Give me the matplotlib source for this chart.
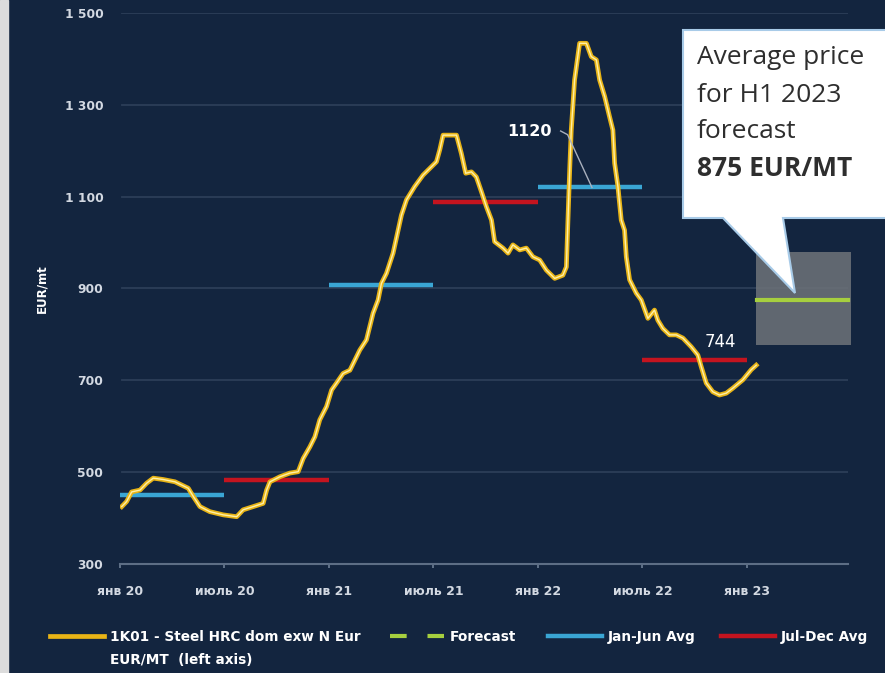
import numpy as np
import matplotlib.pyplot as plt
from matplotlib.patches import Polygon, Rectangle
from matplotlib.lines import Line2D

# weekly-ish readings, x in months since Jan 2020
months = [0.10, 0.38, 0.67, 1.15, 1.53, 1.91, 2.48, 3.16, 3.54, 3.92,
          4.21, 4.59, 5.16, 5.93, 6.70, 7.07, 7.65, 8.22, 8.42, 8.61,
          9.18, 9.75, 10.23, 10.52, 10.90, 11.19, 11.47, 11.86, 12.15, 12.43,
          12.81, 13.20, 13.77, 14.15, 14.53, 14.82, 15.01, 15.30, 15.68, 15.97,
          16.16, 16.45, 16.92, 17.40, 18.17, 18.36, 18.55, 19.32, 19.60, 19.85,
          20.18, 20.46, 20.75, 21.04, 21.33, 21.51, 21.99, 22.28, 22.56, 22.95,
          23.33, 23.71, 24.10, 24.48, 24.96, 25.43, 25.63, 25.72, 25.82, 25.91,
          26.10, 26.39, 26.78, 27.06, 27.35, 27.54, 27.83, 28.11, 28.30, 28.40,
          28.59, 28.78, 28.97, 29.07, 29.26, 29.64, 29.93, 30.31, 30.69, 30.88,
          31.17, 31.55, 31.94, 32.32, 32.80, 33.18, 33.37, 33.66, 34.04, 34.42,
          34.81, 35.19, 35.76, 36.24, 36.53]
price = [425, 436, 457, 461, 476, 487, 484, 479, 472, 465,
         447, 425, 414, 407, 403, 418, 425, 432, 461, 479,
         490, 498, 501, 530, 555, 577, 614, 643, 679, 694,
         715, 722, 766, 788, 846, 875, 911, 933, 977, 1027,
         1060, 1093, 1122, 1147, 1176, 1202, 1234, 1234, 1194, 1151,
         1154, 1143, 1111, 1078, 1049, 1002, 988, 977, 995, 984,
         988, 969, 962, 940, 922, 929, 947, 1049, 1158, 1245,
         1354, 1434, 1434, 1405, 1398, 1354, 1318, 1274, 1245, 1173,
         1122, 1049, 1027, 969, 919, 890, 875, 835, 853, 831,
         813, 799, 799, 792, 773, 755, 730, 694, 675, 668,
         672, 683, 701, 723, 733]

half_start = [0, 6, 12, 18, 24, 30]
half_end = [6, 12, 18, 24, 30, 36]
half_avg = [450, 484, 908, 1088, 1120, 744]

forecast_start = 36.55
forecast_end = 41.8
forecast_val = 875
forecast_low = 777
forecast_high = 980

tick_pos = [0, 6, 12, 18, 24, 30, 36]
tick_lab = ['янв 20', 'июль 20', 'янв 21', 'июль 21', 'янв 22', 'июль 22', 'янв 23']
y_ticks = [300, 500, 700, 900, 1100, 1300, 1500]
y_labs = ['300', '500', '700', '900', '1 100', '1 300', '1 500']

BG = '#13253f'
W, H = 885, 673


def fx(px):
    return px / W


def fy(py):
    return 1 - py / H


fig = plt.figure(figsize=(8.85, 6.73), dpi=100)
fig.patch.set_facecolor(BG)
fig.patches.append(Rectangle((0, 0), fx(8), 1, transform=fig.transFigure,
                             color='#dcdcdc', zorder=0))

ax = fig.add_axes([fx(120), fy(564), fx(848) - fx(120), fy(13) - fy(564)])
ax.set_facecolor(BG)
ax.set_xlim(0, 41.8)
ax.set_ylim(300, 1500)

for s in ['top', 'right', 'left']:
    ax.spines[s].set_visible(False)
ax.spines['bottom'].set_color('#5d6e85')
ax.spines['bottom'].set_linewidth(1.5)

ax.set_yticks(y_ticks)
ax.set_yticklabels(y_labs)
ax.set_xticks(tick_pos)
ax.set_xticklabels(tick_lab)
ax.tick_params(axis='y', length=0, pad=12, labelsize=8.8, labelcolor='#d3d9e2')
ax.tick_params(axis='x', length=3, color='#6d7e95', width=1.2, pad=12,
               labelsize=9, labelcolor='#d3d9e2')
for lab in ax.get_xticklabels() + ax.get_yticklabels():
    lab.set_fontweight('bold')
ax.set_ylabel('EUR/mt', color='white', fontsize=8.5, fontweight='bold', labelpad=12)

for yv in y_ticks[1:]:
    ax.plot([0.1, 41.8], [yv, yv], color='#2c3e58', lw=1.3, zorder=1)

# forecast band
ax.add_patch(Rectangle((forecast_start - 0.05, forecast_low), 42.05 - forecast_start,
                       forecast_high - forecast_low, facecolor='#6e7379',
                       edgecolor='none', alpha=0.85, zorder=2, clip_on=False))
ax.plot([forecast_start, forecast_end], [forecast_val, forecast_val], color='#a6cf3f',
        lw=3, zorder=3, clip_on=False)

for i in range(len(half_avg)):
    c = '#3aa6d4' if i % 2 == 0 else '#c4141f'
    ax.plot([half_start[i], half_end[i]], [half_avg[i], half_avg[i]], color=c,
            lw=3.2, zorder=3, solid_capstyle='butt', clip_on=False)

ax.plot(months, price, color='#e8b416', lw=3.4, zorder=4, solid_joinstyle='round')
ax.plot(months, price, color='#fff0a8', lw=1.0, zorder=5, solid_joinstyle='round')

# label for the Jan-Jun 2022 average with its leader line
ax.text(23.5, 1243, '1120', color='white', fontsize=11.5, fontweight='bold',
        ha='center', va='center', zorder=6)
ax.plot([25.3, 25.7, 27.1], [1243, 1235, 1120], color='#a9b0bd', lw=1, zorder=6)
ax.text(34.5, 783, '744', color='white', fontsize=12, ha='center', va='center',
        zorder=6)

# callout box
callout = Polygon([(fx(683), fy(30)), (fx(890), fy(30)), (fx(890), fy(218)),
                   (fx(783), fy(218)), (fx(795), fy(293)), (fx(723), fy(218)),
                   (fx(683), fy(218))], closed=True, transform=fig.transFigure,
                  facecolor='white', edgecolor='#a8cbe8', lw=1.5, zorder=10)
fig.patches.append(callout)
box_lines = ['Average price', 'for H1 2023', 'forecast', '875 EUR/MT']
box_y = [58, 96, 132, 168]
for k, txt in enumerate(box_lines):
    fig.text(fx(697), fy(box_y[k]), txt, fontsize=19, color='#2e2e2e',
             family='Open Sans', fontweight='bold' if k == 3 else 'normal',
             va='center', zorder=11)

# legend
leg_items = [
    (Line2D([], [], color='#e8b416', lw=3.4), '1K01 - Steel HRC dom exw N Eur', 50),
    (Line2D([], [], color='#a6cf3f', lw=3, ls=(0, (4, 5))), 'Forecast', 390),
    (Line2D([], [], color='#3aa6d4', lw=3.2), 'Jan-Jun Avg', 548),
    (Line2D([], [], color='#c4141f', lw=3.2), 'Jul-Dec Avg', 721),
]
for h, lab, px in leg_items:
    fig.legend([h], [lab], loc='center left', bbox_to_anchor=(fx(px), fy(637)),
               frameon=False, borderpad=0, borderaxespad=0, handlelength=4.0,
               handletextpad=0.4, labelcolor='white',
               prop={'size': 9.8, 'weight': 'bold'})
fig.text(fx(110), fy(660), 'EUR/MT  (left axis)', color='white', fontsize=9.8,
         fontweight='bold', va='center')

fig.savefig('out.png', dpi=100, facecolor=BG)
